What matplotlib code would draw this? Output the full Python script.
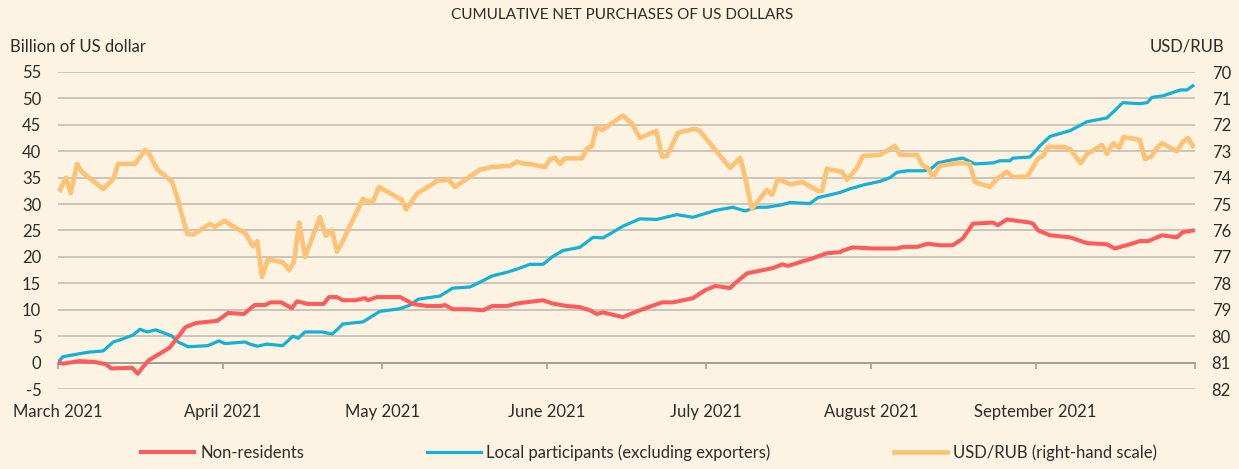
import numpy as np
import pandas as pd
import matplotlib
matplotlib.use("Agg")
import matplotlib.pyplot as plt

plt.rcParams['font.family'] = ['Lato', 'DejaVu Sans']

start = pd.Timestamp('2021-03-01')

# days since 1 March 2021, billion USD
nonres_days = [0, 1, 4, 7, 9, 10, 14, 15, 17, 21, 24, 26, 30, 32, 35, 37, 39, 40, 42, 44,
               45, 47, 50, 51, 52.5, 53.6, 56, 57.8, 58.3, 60, 64.4, 66.8, 69.5, 72, 72.8, 74.3,
               77.5, 80, 81.7, 84.5, 86.4, 91.3, 93, 95.8, 98.2, 100.1, 101.4, 102.6, 106.3,
               109.5, 113.7, 115.8, 119.5, 121.8, 123.7, 126.5, 127.4, 129.7, 134.6, 136.3,
               137.4, 141.9, 144.7, 147.2, 147.7, 149.6, 153.4, 157.9, 159, 161.7, 163.7, 166,
               168.4, 170.3, 172.2, 176, 176.9, 178.6, 182.9, 183.5, 184.5, 186.7, 190.5, 193.7,
               197.4, 198.9, 201.8, 203.6, 205.2, 207.8, 210.6, 211.7, 213.6]
nonres_vals = [0, -0.2, 0.3, 0.1, -0.3, -1.1, -1.0, -2.1, 0.4, 2.8, 6.7, 7.5, 7.9, 9.4, 9.2,
               10.9, 10.9, 11.4, 11.4, 10.3, 11.6, 11.1, 11.1, 12.4, 12.4, 11.8, 11.8, 12.2, 11.8,
               12.4, 12.4, 11.1, 10.7, 10.7, 10.9, 10.1, 10.1, 9.9, 10.7, 10.7, 11.2, 11.8, 11.2,
               10.7, 10.5, 9.9, 9.2, 9.5, 8.6, 9.9, 11.4, 11.4, 12.2, 13.7, 14.5, 14.1, 15.0,
               16.9, 17.9, 18.6, 18.3, 19.7, 20.7, 20.9, 21.2, 21.8, 21.6, 21.6, 21.9, 21.9, 22.5,
               22.2, 22.2, 23.5, 26.3, 26.5, 26.0, 27.1, 26.5, 26.3, 25.0, 24.1, 23.7, 22.6, 22.4,
               21.6, 22.4, 23.0, 23.0, 24.1, 23.7, 24.7, 25.0]

local_days = [0, 0.9, 3.6, 6, 8.5, 10.4, 11.7, 14.1, 15.4, 16.8, 18.4, 21.5, 22.6, 24.5, 28.2,
              30.3, 31.4, 35.2, 36.1, 37.5, 39.3, 42.3, 44.2, 45.2, 46.5, 49.7, 51.6, 52.5, 53.6,
              57.4, 60.6, 64.4, 66.3, 67.8, 71.9, 74.3, 77.5, 79.4, 81.7, 84.5, 86.4, 87.5, 88.8,
              91.3, 93, 95, 98.2, 100.7, 102.6, 106.3, 109.5, 112.7, 116.5, 119.5, 120.8, 123.7,
              127, 129.3, 131.6, 133.4, 135.9, 137.8, 141.5, 143, 147.2, 149.1, 151.5, 154.7,
              156.6, 157.9, 159.8, 162.8, 164.1, 165.6, 168.4, 170.3, 172.6, 176, 177.3, 179.2,
              179.7, 182.9, 183.5, 184.8, 186.7, 190.5, 193.7, 197.4, 198.9, 200.4, 203.6, 205,
              205.9, 208, 211.2, 212.5, 213.6]
local_vals = [0, 1.1, 1.6, 2.0, 2.2, 3.9, 4.3, 5.2, 6.3, 5.8, 6.2, 5.0, 3.9, 3.0, 3.2, 4.1, 3.6,
              3.9, 3.5, 3.1, 3.5, 3.2, 5.0, 4.6, 5.8, 5.8, 5.4, 6.2, 7.3, 7.7, 9.7, 10.2, 10.9,
              12.0, 12.6, 14.1, 14.3, 15.2, 16.4, 17.1, 17.7, 18.1, 18.6, 18.6, 20.0, 21.2, 21.8,
              23.7, 23.6, 25.8, 27.2, 27.1, 28.0, 27.5, 27.9, 28.8, 29.4, 28.7, 29.4, 29.4, 29.8,
              30.3, 30.1, 31.2, 32.2, 32.9, 33.6, 34.3, 35.0, 36.0, 36.3, 36.3, 36.5, 37.8, 38.4,
              38.7, 37.6, 37.8, 38.2, 38.2, 38.7, 38.9, 39.5, 41.0, 42.8, 43.9, 45.6, 46.3, 47.7,
              49.2, 49.0, 49.2, 50.2, 50.5, 51.6, 51.6, 52.4]

# USD/RUB
rub_days = [0.4, 1.5, 2.4, 3.6, 4.5, 8.5, 10.4, 11.3, 14.5, 16.4, 17.3, 18.6, 21.5, 22.4, 24.3,
            25.4, 28.6, 29.5, 31.4, 32.7, 35.2, 36.7, 37.5, 38.4, 39.5, 42.3, 43.5, 44.4, 45.4,
            46.5, 49.3, 50.4, 51.6, 52.5, 53.6, 57.4, 58.3, 59.3, 60.4, 64.7, 65.5, 67.6, 70,
            71.5, 72.8, 73.4, 74.7, 79.4, 81.7, 85.1, 86.4, 87.9, 88.8, 91.7, 92.6, 93.5, 94.5,
            95.4, 98.6, 99.6, 100.5, 101.4, 102.4, 106.3, 108, 109.5, 112.6, 113.7, 114.6, 116.7,
            119.9, 120.8, 122.7, 126.5, 128.4, 129.3, 130.6, 133.4, 134.4, 135.5, 137.8, 140.2,
            143, 143.8, 144.7, 147.6, 148.5, 150.4, 151.5, 154.7, 157.5, 158.5, 161.7, 162.8,
            163.7, 164.7, 166, 169.8, 171.6, 172.6, 175.4, 176.7, 178.6, 179.6, 182.4, 184.5,
            185.4, 186.3, 189.5, 190.5, 192.5, 193.7, 196.5, 197.4, 198.6, 199.7, 200.6, 203.6,
            204.6, 205.9, 206.8, 207.8, 210.6, 211.7, 212.7, 213.6]
rub_vals = [74.46, 74.0, 74.58, 73.48, 73.78, 74.43, 74.05, 73.48, 73.48, 72.95, 73.14, 73.67,
            74.16, 74.73, 76.12, 76.16, 75.75, 75.86, 75.63, 75.82, 76.09, 76.6, 76.4, 77.76,
            77.1, 77.2, 77.5, 77.2, 75.7, 77.0, 75.5, 76.2, 76.0, 76.8, 76.4, 74.8, 74.9, 74.9,
            74.35, 74.84, 75.2, 74.6, 74.3, 74.1, 74.1, 74.05, 74.35, 73.7, 73.6, 73.55, 73.4,
            73.48, 73.48, 73.6, 73.3, 73.25, 73.48, 73.27, 73.27, 72.9, 72.8, 72.07, 72.2, 71.65,
            71.94, 72.5, 72.23, 73.2, 73.18, 72.3, 72.15, 72.23, 72.7, 73.63, 73.25, 73.97, 75.18,
            74.46, 74.65, 74.05, 74.25, 74.17, 74.5, 74.5, 73.67, 73.78, 74.08, 73.63, 73.18,
            73.14, 72.8, 73.14, 73.14, 73.55, 73.63, 73.97, 73.55, 73.44, 73.48, 74.17, 74.35,
            74.05, 73.78, 73.97, 73.97, 73.27, 73.18, 72.84, 72.84, 72.93, 73.45, 73.1, 72.76,
            73.1, 72.7, 72.87, 72.46, 72.57, 73.3, 73.18, 72.87, 72.7, 73.0, 72.65, 72.5, 72.8]

left_ticks = list(range(-5, 56, 5))
right_ticks = list(range(70, 83))
month_ticks = pd.date_range('2021-03-01', '2021-10-01', freq='MS')
month_labels = [d.strftime('%B %Y') for d in month_ticks[:-1]] + ['']

bg = '#FDF3E3'
red = '#FF5A5A'
teal = '#12B1D6'
orange = '#FFC274'
grid_c = '#C9C1B6'
axis_c = '#A59E95'
txt = '#2E2B28'


def to_dates(days):
    return start + pd.to_timedelta(np.array(days, dtype=float), unit='D')


fig = plt.figure(figsize=(12.39, 4.69), dpi=100, facecolor=bg)
ax = fig.add_axes([58 / 1239, 1 - 389 / 469, (1195 - 58) / 1239, (389 - 72) / 469])
ax.set_facecolor(bg)
ax2 = ax.twinx()

for v in left_ticks:
    ax.axhline(v, color=grid_c, lw=1.3, zorder=0)

l_local, = ax.plot(to_dates(local_days), local_vals, color=teal, lw=2.3, zorder=3,
                   solid_joinstyle='round', label='Local participants (excluding exporters)')
l_nonres, = ax.plot(to_dates(nonres_days), nonres_vals, color=red, lw=2.9, zorder=4,
                    solid_joinstyle='round', label='Non-residents')
l_rub, = ax2.plot(to_dates(rub_days), rub_vals, color=orange, lw=3.3, zorder=5,
                  solid_joinstyle='round', label='USD/RUB (right-hand scale)')

ax.set_xlim(month_ticks[0], month_ticks[-1])
ax.set_ylim(-5, 55)
ax2.set_ylim(82, 70)

ax.set_yticks(left_ticks)
ax.set_yticklabels([str(v) for v in left_ticks])
ax2.set_yticks(right_ticks)
ax2.set_yticklabels([str(v) for v in right_ticks])

ax.set_xticks(month_ticks)
ax.set_xticklabels(month_labels)

for a in (ax, ax2):
    for s in a.spines.values():
        s.set_visible(False)
ax.spines['bottom'].set_visible(True)
ax.spines['bottom'].set_position(('data', 0))
ax.spines['bottom'].set_color(axis_c)
ax.spines['bottom'].set_linewidth(1.4)

ax.tick_params(axis='x', direction='out', length=4, width=1.2, color=axis_c,
               pad=26, labelsize=12, labelcolor=txt)
ax.tick_params(axis='y', length=0, pad=12, labelsize=12, labelcolor=txt)
ax2.tick_params(axis='y', length=0, pad=12, labelsize=12, labelcolor=txt)

fig.text(622 / 1239, 1 - 15 / 469, 'CUMULATIVE NET PURCHASES OF US DOLLARS', ha='center',
         va='center', fontsize=11, color=txt)
fig.text(10 / 1239, 1 - 47 / 469, 'Billion of US dollar', ha='left', va='center',
         fontsize=12, color=txt)
fig.text(1224 / 1239, 1 - 47 / 469, 'USD/RUB', ha='right', va='center',
         fontsize=12, color=txt)

fig.legend(handles=[l_nonres, l_local, l_rub], loc='center', ncol=3,
           bbox_to_anchor=(649 / 1239, 1 - 453 / 469), frameon=False, fontsize=12,
           handlelength=3.2, handletextpad=0.35, columnspacing=7.4, labelcolor=txt)

fig.savefig('out.png', dpi=100, facecolor=bg)
